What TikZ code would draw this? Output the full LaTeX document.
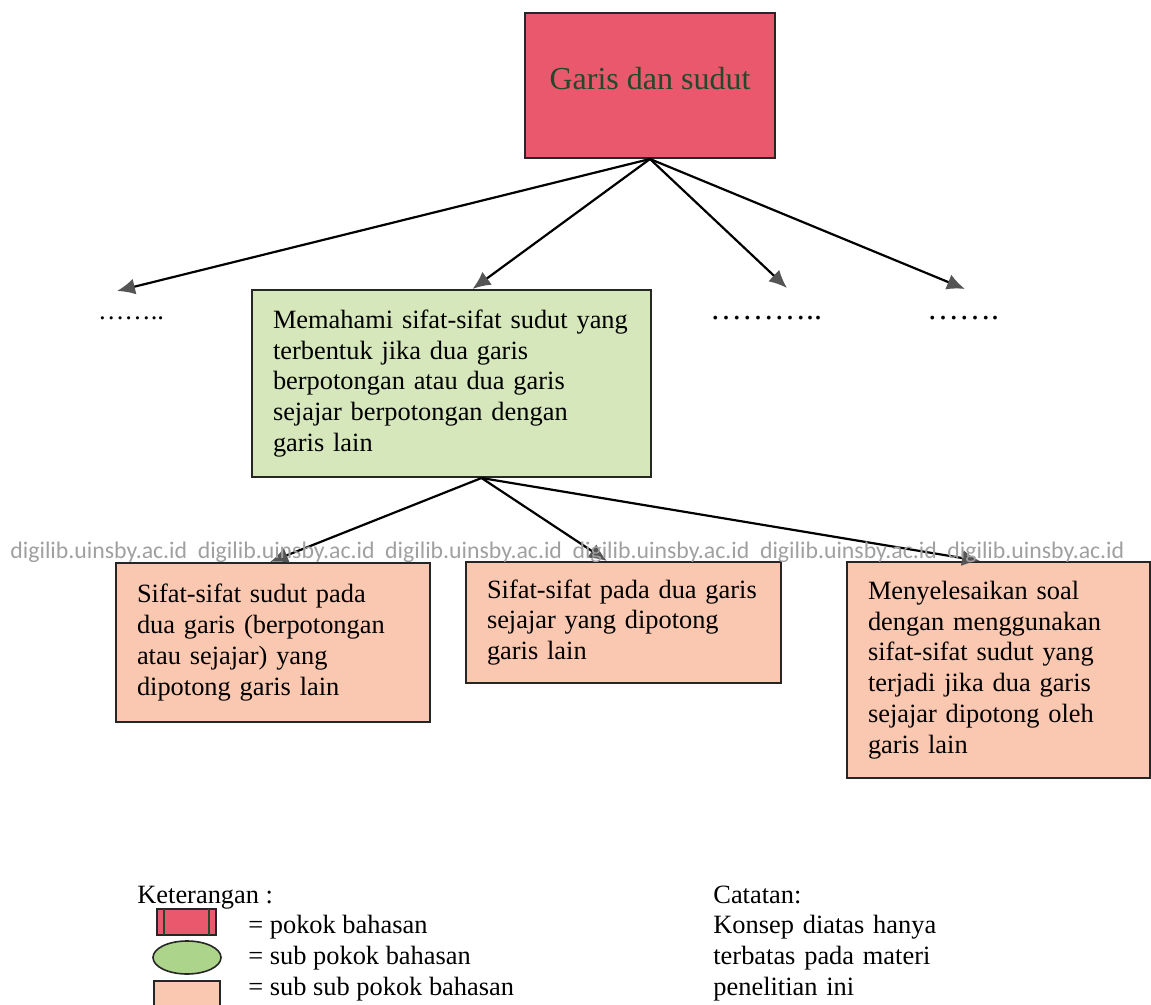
\documentclass[tikz,border=0pt]{standalone}
\usepackage{fontspec}
\setmainfont{Liberation Serif}
\newfontfamily\wmfont{Carlito}
\usetikzlibrary{calc,arrows.meta}

\definecolor{pokok}{RGB}{233,88,108}
\definecolor{subpokok}{RGB}{214,231,187}
\definecolor{ikonhijau}{RGB}{172,212,138}
\definecolor{subsub}{RGB}{250,199,176}
\definecolor{pokoktext}{RGB}{35,72,42}
\definecolor{tipgray}{RGB}{85,85,85}
\definecolor{wmgray}{RGB}{160,160,160}

\begin{document}
\begin{tikzpicture}[x=0.5pt,y=-0.5pt,
    every node/.style={font=\fontsize{13.2}{15.4}\selectfont},
    kotak/.style={draw=black!85,line width=1pt,align=left,inner xsep=10.5pt,inner ysep=0pt},
    panah/.style={line width=1.1pt,-{Latex[length=9pt,width=8pt,color=tipgray]}},
    ikon/.style={draw=black!85,line width=0.8pt},
    wmark/.style={font=\wmfont\fontsize{11.9}{14}\selectfont,text=wmgray,inner sep=0pt}]
            \useasboundingbox (0,0) rectangle (1151,1005);
            \node[kotak,fill=pokok,align=center,minimum width=125pt,minimum height=72.5pt,
                  text height=11pt,text depth=6.5pt,
                  font=\fontsize{16}{19}\selectfont,text=pokoktext] (garis) at (650,85.5) {Garis dan sudut};
            \node[kotak,fill=subpokok,text width=178.5pt,minimum height=93.5pt] (sifat) at (451.5,383.5)
                {Memahami sifat-sifat sudut yang\\ terbentuk jika dua garis\\ berpotongan atau dua garis\\ sejajar berpotongan dengan\\ garis lain};
            \node[anchor=base] (titik1) at (131,320) {……..};
            \node[anchor=base,font=\fontsize{16}{19}\selectfont] (titik2) at (766,320) {………..};
            \node[anchor=base,font=\fontsize{16}{19}\selectfont] (titik3) at (963,320) {…….};
            \node[kotak,fill=subsub,text width=136pt,minimum height=79.5pt] (sub1) at (273,642.5)
                {Sifat-sifat sudut pada\\ dua garis (berpotongan\\ atau sejajar) yang\\ dipotong garis lain};
            \node[kotak,fill=subsub,text width=136.5pt,minimum height=60.5pt] (sub2) at (623.5,622.5)
                {Sifat-sifat pada dua garis\\ sejajar yang dipotong\\ garis lain};
            \node[kotak,fill=subsub,text width=130.5pt,minimum height=108pt] (sub3) at (998.5,670)
                {Menyelesaikan soal\\ dengan menggunakan\\ sifat-sifat sudut yang\\ terjadi jika dua garis\\ sejajar dipotong oleh\\ garis lain};

            \coordinate (ujung1) at (117,291);
            \coordinate (ujung3) at (787,288);
            \coordinate (ujung4) at (965,289);
            \draw[panah] (garis.south) -- (ujung1);
            \draw[panah] (garis.south) -- ([xshift=10.5pt]sifat.north);
            \draw[panah] (garis.south) -- (ujung3);
            \draw[panah] (garis.south) -- (ujung4);
            \coordinate (pangkal) at ([xshift=15pt]sifat.south);
            \draw[panah] (pangkal) -- ([xshift=-1.5pt]sub1.north);
            \draw[panah] (pangkal) -- ([xshift=-8.25pt]sub2.north);
            \draw[panah] (pangkal) -- ([xshift=-9.25pt]sub3.north);

            \foreach \i in {0,...,5}
                \node[wmark,anchor=base west] (wm\i) at (10+187.4*\i,558) {digilib.uinsby.ac.id};

            \node[anchor=base west,inner sep=0pt] (ket) at (137,903) {Keterangan :};
            \draw[ikon,fill=pokok] (157,909) rectangle (216,935);
            \draw[pokoktext,line width=0.8pt] (164,909) -- (164,935) (209,909) -- (209,935);
            \draw[ikon,fill=ikonhijau] (187,957.5) ellipse [x radius=17pt,y radius=8.25pt];
            \draw[ikon,fill=subsub] (154,981) rectangle (220,1012);
            \node[anchor=base west,inner sep=0pt] (ket1) at (248,933) {= pokok bahasan};
            \node[anchor=base west,inner sep=0pt] (ket2) at (248,964) {= sub pokok bahasan};
            \node[anchor=base west,inner sep=0pt] (ket3) at (248,995) {= sub sub pokok bahasan};
            \node[anchor=base west,inner sep=0pt,text width=130pt,align=left] (catatan) at (713,903)
                {Catatan:\\ Konsep diatas hanya\\ terbatas pada materi\\ penelitian ini};
        \end{tikzpicture}
\end{document}
